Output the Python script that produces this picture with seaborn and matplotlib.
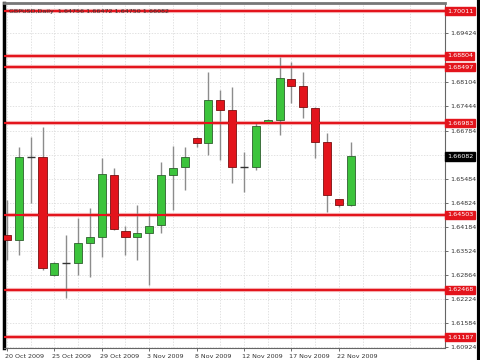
import matplotlib
matplotlib.use("Agg")
import matplotlib.pyplot as plt
import matplotlib.transforms as mtransforms
from matplotlib.lines import Line2D
import numpy as np
import pandas as pd
import seaborn as sns

# ---------------- data ----------------
opens = [1.63956, 1.63820, 1.66067, 1.66067, 1.62873, 1.63198, 1.63198, 1.63739, 1.63902, 1.65580,
         1.64064, 1.63902, 1.64010, 1.64227, 1.65580, 1.65797, 1.66582, 1.66446, 1.67610, 1.67340,
         1.65797, 1.65784, 1.67015, 1.67069, 1.68179, 1.67989, 1.67394, 1.66473, 1.64930, 1.64756]
highs = [1.64903, 1.66338, 1.66609, 1.66879, 1.63225, 1.63956, 1.64416, 1.64687, 1.66040, 1.65770,
         1.64200, 1.64768, 1.64551, 1.65932, 1.66365, 1.66338, 1.66609, 1.68368, 1.67881, 1.67962,
         1.66203, 1.67015, 1.67096, 1.68774, 1.68639, 1.68368, 1.67421, 1.66717, 1.64930, 1.66472]
lows = [1.63279, 1.63414, 1.64822, 1.63008, 1.62846, 1.62250, 1.62873, 1.62819, 1.63360, 1.64091,
        1.63414, 1.63279, 1.62602, 1.64010, 1.64633, 1.65174, 1.66338, 1.66121, 1.65986, 1.65364,
        1.65120, 1.65715, 1.66988, 1.66663, 1.67529, 1.67123, 1.66040, 1.64579, 1.64714, 1.64750]
closes = [1.63820, 1.66067, 1.66060, 1.63063, 1.63198, 1.63190, 1.63739, 1.63902, 1.65607, 1.64118,
          1.63902, 1.64010, 1.64200, 1.65580, 1.65770, 1.66067, 1.66446, 1.67610, 1.67340, 1.65797,
          1.65790, 1.66907, 1.67069, 1.68206, 1.67989, 1.67421, 1.66473, 1.65039, 1.64756, 1.66082]

date_labels = ["20 Oct 2009", "25 Oct 2009", "29 Oct 2009", "3 Nov 2009",
               "8 Nov 2009", "12 Nov 2009", "17 Nov 2009", "22 Nov 2009"]
date_label_idx = [0, 4, 8, 12, 16, 20, 24, 28]

price_ticks = [1.60924, 1.61584, 1.62224, 1.62864, 1.63524, 1.64184, 1.64824, 1.65484,
               1.66124, 1.66784, 1.67444, 1.68104, 1.68764, 1.69424]
price_tick_labels = ["1.60924", "1.61584", "1.62224", "1.62864", "1.63524", "1.64184", "1.64824",
                     "1.65484", "", "1.66784", "1.67444", "1.68104", "", "1.69424"]
level_values = [1.70011, 1.68804, 1.68497, 1.66983, 1.64503, 1.62468, 1.61187]
level_labels = ["1.70011", "1.68804", "1.68497", "1.66983", "1.64503", "1.62468", "1.61187"]
last_price = 1.66082
last_label = "1.66082"
header_text = "GBPUSD,Daily  1.64756 1.66472 1.64750 1.66082"

# ---------------- style ----------------
sns.set_theme(style="white")
plt.rcParams['font.family'] = ['DejaVu Sans']

df = pd.DataFrame({"idx": np.arange(len(opens)), "open": opens, "high": highs,
                   "low": lows, "close": closes})
df["up"] = df["close"] >= df["open"]
df["lo"] = df[["open", "close"]].min(axis=1)
df["h"] = (df["close"] - df["open"]).abs()

fig = plt.figure(figsize=(4.8, 3.6), dpi=100)
fig.patch.set_facecolor("white")
ax = fig.add_axes([4 / 480, 12 / 360, 441 / 480, 345 / 360])
ax.set_facecolor("white")

ax.set_xlim(-0.25, 36.96)
ax.set_ylim(1.60897, 1.70236)

# grid
ax.set_xticks(date_label_idx)
ax.set_xticks([i for i in range(2, 37, 4)], minor=True)
ax.set_yticks(price_ticks)
ax.grid(True, which="both", color="#d6d6d6", lw=0.5, ls=(0, (2, 2)), zorder=0)

# level lines
for v in level_values:
    ax.axhline(v, color="#f5b3b5", lw=3.0, zorder=1)
    ax.axhline(v, color="#e3141c", lw=1.5, zorder=4)

# wicks
ax.vlines(df["idx"], df["low"], df["high"], color="#8c8c8c", lw=1.0, zorder=2)

# bodies
up = df[df["up"] & (df["h"] > 0.0002)]
dn = df[(~df["up"]) & (df["h"] > 0.0002)]
doji = df[df["h"] <= 0.0002]
ax.bar(up["idx"], up["h"], bottom=up["lo"], width=0.68, color="#3cc43c",
       edgecolor="#2f5f2f", lw=0.6, zorder=3)
ax.bar(dn["idx"], dn["h"], bottom=dn["lo"], width=0.68, color="#e3141c",
       edgecolor="#7a1010", lw=0.6, zorder=3)
ax.hlines(doji["close"], doji["idx"] - 0.34, doji["idx"] + 0.34, color="#333333",
          lw=1.0, zorder=3)

# axes & ticks
ax.yaxis.tick_right()
ax.set_yticklabels(price_tick_labels, fontsize=4.6, color="#333333")
ax.set_xticklabels(date_labels, fontsize=4.6, color="#333333", ha="left")
ax.tick_params(axis="y", which="major", length=2.5, width=0.6, color="#555555", pad=1.5, right=True, left=False)
ax.tick_params(axis="x", which="major", length=2.5, width=0.6, color="#555555", pad=2.0, bottom=True)
ax.tick_params(axis="x", which="minor", length=0)
offset = mtransforms.ScaledTranslation(-2 / 100, 0, fig.dpi_scale_trans)
for lbl in ax.get_xticklabels():
    lbl.set_transform(lbl.get_transform() + offset)

for side in ["right", "bottom"]:
    ax.spines[side].set_color("#666666")
    ax.spines[side].set_linewidth(0.8)
ax.spines["left"].set_color("black")
ax.spines["left"].set_linewidth(2.5)
ax.spines["top"].set_color("#777777")
ax.spines["top"].set_linewidth(2.0)

# right-side price boxes
blend = mtransforms.blended_transform_factory(ax.transAxes, ax.transData)
for v, lab in zip(level_values, level_labels):
    ax.text(1.004, v, lab, transform=blend, fontsize=4.6, color="white", va="center",
            ha="left", clip_on=False, zorder=10,
            bbox=dict(boxstyle="square,pad=0.25", fc="#e3141c", ec="#e3141c"))
ax.text(1.004, last_price, last_label, transform=blend, fontsize=4.6, color="white",
        va="center", ha="left", clip_on=False, zorder=10,
        bbox=dict(boxstyle="square,pad=0.25", fc="black", ec="black"))

# header
ax.text(0.012, 0.982, header_text, transform=ax.transAxes, fontsize=4.6,
        color="#333333", va="top", ha="left", zorder=11)

# outer border on the right
fig.add_artist(Line2D([0.997, 0.997], [0, 1], transform=fig.transFigure,
                      color="black", lw=3))

fig.savefig("out.png", dpi=100)
